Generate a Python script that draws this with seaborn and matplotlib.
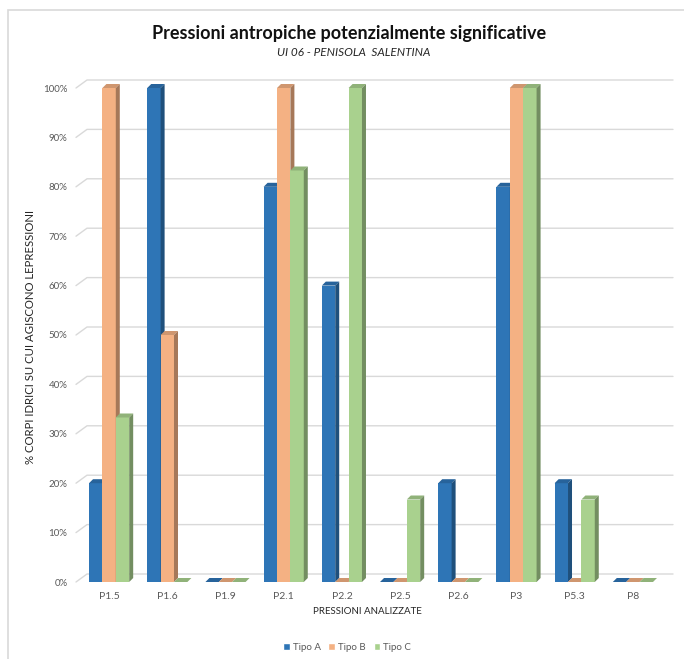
import numpy as np
import pandas as pd
import seaborn as sns
import matplotlib.pyplot as plt
from matplotlib.patches import Polygon, Rectangle
from matplotlib.lines import Line2D
from matplotlib.transforms import IdentityTransform
from matplotlib.ticker import PercentFormatter
from matplotlib.colors import to_rgb

# dati (quota di corpi idrici, 0-1)
pressioni = ["P1.5", "P1.6", "P1.9", "P2.1", "P2.2", "P2.5", "P2.6", "P3", "P5.3", "P8"]
tipo_a = [0.20, 1.00, 0.00, 0.80, 0.60, 0.00, 0.20, 0.80, 0.20, 0.00]
tipo_b = [1.00, 0.50, 0.00, 1.00, 0.00, 0.00, 0.00, 1.00, 0.00, 0.00]
tipo_c = [0.333, 0.00, 0.00, 0.833, 1.00, 0.167, 0.00, 1.00, 0.167, 0.00]
serie = ["Tipo A", "Tipo B", "Tipo C"]
colori = ["#2E75B6", "#F4B183", "#A9D18E"]

df = pd.DataFrame({
    "pressione": pressioni * 3,
    "valore": tipo_a + tipo_b + tipo_c,
    "tipo": [s for s in serie for _ in pressioni],
})

sns.set_style("white")
plt.rcParams["font.family"] = ["Lato", "DejaVu Sans"]

W, H = 684, 659
fig = plt.figure(figsize=(W / 100, H / 100), dpi=100)
ax = fig.add_axes([80 / W, 1 - 582 / H, 582 / W, 494 / H])

sns.barplot(data=df, x="pressione", y="valore", hue="tipo", palette=colori,
            width=0.69, saturation=1, ax=ax, legend=False)

ax.set_xlim(-0.5, len(pressioni) - 0.5)
ax.set_ylim(0, 1.0)
ax.set_yticks(np.arange(0, 1.01, 0.1))
ax.yaxis.set_major_formatter(PercentFormatter(1.0, decimals=0))
ax.tick_params(axis="y", length=0, pad=9, labelsize=7, labelcolor="#595959")
ax.tick_params(axis="x", length=0, pad=7, labelsize=7.5, labelcolor="#595959")
ax.set_xlabel("")
ax.set_ylabel("")
for s in ax.spines.values():
    s.set_visible(False)

# griglia sulla parete di fondo (effetto 3D di Excel)
GX, GY = 11, 8
xl0, xl1 = ax.get_xlim()
for t in np.arange(0, 1.01, 0.1):
    (fx0, fy), (fx1, _) = ax.transData.transform([(xl0, t), (xl1, t)])
    ax.add_artist(Line2D([fx0 - 4, fx0 - 4 + GX, fx1 + GX], [fy, fy + GY, fy + GY],
                         transform=IdentityTransform(), color="#D9D9D9", lw=1,
                         clip_on=False, zorder=0.5))

# facce laterali e superiori delle barre
DX, DY = 4, 4
for k, cont in enumerate(ax.containers):
    c = np.array(to_rgb(colori[k]))
    for bar in cont:
        x0, w, h = bar.get_x(), bar.get_width(), bar.get_height()
        (px0, py0), (px1, py1) = ax.transData.transform([(x0, 0), (x0 + w, h)])
        base = 2 + k * 0.3
        bar.set_zorder(base)
        bar.set_edgecolor("none")
        top = Polygon([(px0, py1), (px1, py1), (px1 + DX, py1 + DY), (px0 + DX, py1 + DY)],
                      closed=True, transform=IdentityTransform(), facecolor=c * 0.85,
                      edgecolor="none", clip_on=False, zorder=base + 0.1)
        ax.add_artist(top)
        if h > 0:
            side = Polygon([(px1, py0), (px1, py1), (px1 + DX, py1 + DY), (px1 + DX, py0 + DY)],
                           closed=True, transform=IdentityTransform(), facecolor=c * 0.68,
                           edgecolor="none", clip_on=False, zorder=base + 0.1)
            ax.add_artist(side)

# testi
fig.text(349 / W, 1 - 33 / H, "Pressioni antropiche potenzialmente significative",
         ha="center", va="center", fontsize=13, fontweight="bold", color="#111111")
fig.text(354 / W, 1 - 52 / H, "UI 06 - PENISOLA  SALENTINA", ha="center", va="center",
         fontsize=8.5, style="italic", color="#262626")
fig.text(367 / W, 1 - 611 / H, "PRESSIONI ANALIZZATE", ha="center", va="center",
         fontsize=7, color="#262626")
fig.text(31 / W, 1 - 337 / H, "% CORPI IDRICI SU CUI AGISCONO LEPRESSIONI", ha="center",
         va="center", rotation=90, fontsize=8.2, color="#262626")

handles = [Rectangle((0, 0), 1, 1, facecolor=col) for col in colori]
fig.legend(handles, serie, loc="center", bbox_to_anchor=(347 / W, 1 - 647 / H), ncol=3,
           frameon=False, fontsize=7, handlelength=0.7, handleheight=0.7,
           handletextpad=0.3, columnspacing=0.8, labelcolor="#595959")

# cornice del grafico
fig.patches.append(Rectangle((8 / W, -0.1), 1.5, 1 - 10 / H + 0.1, transform=fig.transFigure,
                             facecolor="none", edgecolor="#D9D9D9", lw=1.2, figure=fig))

fig.savefig("out.png", dpi=100)
